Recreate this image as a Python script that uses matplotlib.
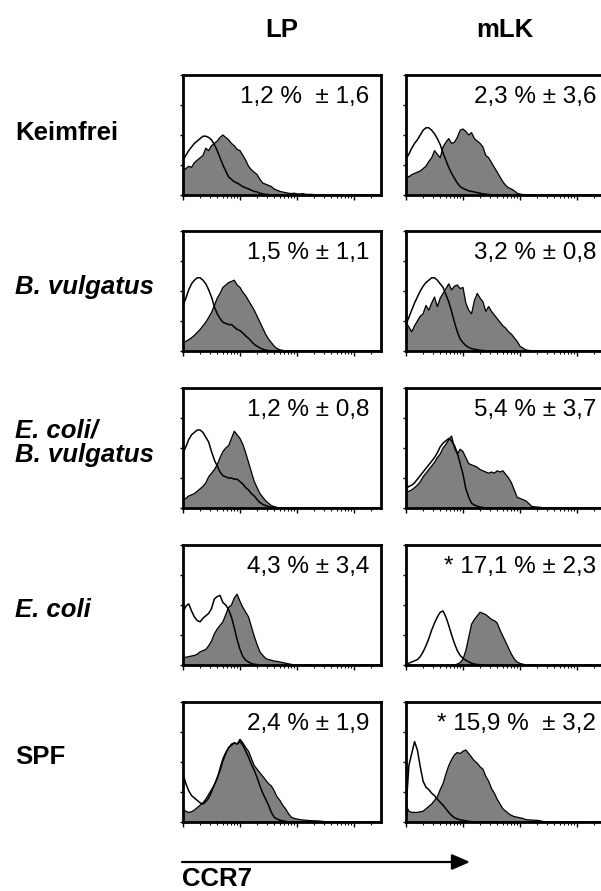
import numpy as np
import matplotlib
matplotlib.use("Agg")
import matplotlib.pyplot as plt
from matplotlib.patches import FancyArrowPatch, ArrowStyle
from matplotlib.ticker import LogLocator, NullFormatter, FixedLocator

plt.rcParams["font.family"] = ["Liberation Sans", "DejaVu Sans"]

# ---------------------------------------------------------------------------
# CCR7 fluorescence histograms (% of panel height), channels in 0.05-decade bins
# starting at 10^0.  "iso" = open outline, "ccr7" = grey filled histogram.
# ---------------------------------------------------------------------------
BIN_WIDTH = 0.05
N_BINS = 70
channel_decades = np.arange(N_BINS) * BIN_WIDTH

groups = ["Keimfrei", "B. vulgatus", "E. coli/\nB. vulgatus", "E. coli", "SPF"]
group_italic = [False, True, True, True, False]
tissues = ["LP", "mLK"]

stats_lp = ["1,2 %  ± 1,6", "1,5 % ± 1,1", "1,2 % ± 0,8", "4,3 % ± 3,4", "2,4 % ± 1,9"]
stats_mlk = ["2,3 % ± 3,6", "3,2 % ± 0,8", "5,4 % ± 3,7", "* 17,1 % ± 2,3", "* 15,9 %  ± 3,2"]

keimfrei_lp_iso = [29, 33, 37, 40, 43, 45, 47, 49, 49, 48, 46, 42, 37, 31, 25, 20, 15, 13, 11, 10,
                   8.5, 7, 6, 5, 4, 3, 2.5, 1.5, 1, 0.6, 0.3]
keimfrei_lp_ccr7 = [20, 22, 24, 23, 27, 29, 31, 33, 39, 37, 41, 43, 45, 48, 50, 48, 46, 43, 41, 38,
                    37, 33, 29, 24, 21, 19, 17, 13, 10, 9, 8, 7, 5, 4, 3, 2.5, 2, 1.5, 1.2, 1.5,
                    1, 0.8, 1.2, 0.6, 0.5, 0.6, 0.3, 0.2]
keimfrei_mlk_iso = [30, 34, 39, 43, 46, 50, 54, 56, 56, 54, 51, 47, 42, 35, 29, 23, 18, 14, 10, 7,
                    5.5, 4.5, 3.5, 3, 2.5, 2, 1.5, 1, 0.7, 0.4, 0.2]
keimfrei_mlk_ccr7 = [17, 15, 17, 18, 19, 20, 22, 24, 28, 31, 37, 34, 31, 40, 44, 47, 43, 44, 48, 54,
                     55, 53, 50, 52, 47, 45, 43, 40, 33, 31, 27, 23, 19, 15, 11, 8, 6, 5, 3.5, 1.5,
                     0.8, 0.4, 0.3]

bvulg_lp_iso = [38, 44, 51, 56, 59, 61, 61, 59, 56, 51, 45, 37, 31, 27, 24, 23, 22, 22, 20, 18,
                17, 15, 12.5, 10.5, 8, 5.5, 4, 2.5, 1.5, 0.8, 0.4, 0.2]
bvulg_lp_ccr7 = [7, 8, 9.5, 11, 13, 15.5, 18, 21, 24, 28, 32, 38, 44, 48, 53, 55, 57, 58, 59, 55,
                 53, 49, 46, 42, 38, 34, 29, 24, 19, 14, 10, 7, 4, 2, 1, 0.5, 0.2]
bvulg_mlk_iso = [22, 28, 34, 40, 45, 50, 54, 57, 59, 61, 61, 59, 56, 53, 47, 41, 33, 24, 16, 10,
                 7, 4.5, 3, 2, 1.5, 1, 0.6, 0.4, 0.2]
bvulg_mlk_ccr7 = [24, 20, 16, 21, 25, 29, 31, 38, 34, 40, 45, 37, 44, 48, 52, 56, 51, 54, 55, 52,
                  53, 40, 34, 31, 42, 48, 44, 41, 33, 37, 33, 30, 27, 24, 21, 19, 16, 14, 11, 8,
                  4, 2.5, 1, 0.5, 0.3]

ecbv_lp_iso = [46, 51, 57, 61, 63, 65, 65, 63, 59, 55, 47, 40, 35, 30, 27, 26, 25, 25, 24, 24,
               22, 20, 17, 15, 12, 10, 7, 4.5, 3, 2, 1.2, 0.6, 0.3]
ecbv_lp_ccr7 = [7, 8, 10, 11, 12, 14, 16, 18, 21, 26, 29, 32, 36, 42, 47, 50, 52, 58, 64, 61,
                58, 53, 46, 38, 30, 22, 17, 12, 9, 6, 4, 2, 1.2, 0.5, 0.2]
ecbv_mlk_iso = [16, 18, 19, 21, 24, 27, 30, 33, 36, 39, 42, 46, 51, 54, 56, 58, 56, 52, 46, 37,
                28, 16, 9, 4, 2.5, 1.5, 0.8, 0.4, 0.2]
ecbv_mlk_ccr7 = [13, 14, 15, 17, 19, 22, 26, 29, 32, 35, 38, 42, 45, 50, 53, 57, 60, 50, 45, 49,
                 47, 42, 37, 36, 35, 34, 32, 31, 30, 29, 30, 29, 31, 30, 31, 28, 25, 21, 15, 9,
                 8, 7, 6, 4, 1.5, 1, 0.8, 0.6, 0.3]

ecoli_lp_iso = [44, 49, 51, 45, 40, 37, 36, 39, 41, 43, 47, 55, 57, 58, 52, 50, 46, 40, 31, 21,
                13, 7, 4, 2.5, 1.2, 0.6, 0.3]
ecoli_lp_ccr7 = [6, 6.5, 7, 7.5, 8, 9, 11, 12, 13, 16, 20, 26, 30, 33, 36, 42, 48, 50, 56, 59,
                 53, 48, 44, 40, 32, 24, 17, 11, 8, 5.5, 4.5, 4, 3.3, 3, 2.5, 2, 1.5, 1, 0.5, 0.2]
ecoli_mlk_iso = [0.5, 1.5, 2.5, 3.5, 4.5, 7, 11, 16, 22, 29, 35, 40, 44, 45, 40, 33, 25, 18, 12, 8,
                 5.5, 4, 2.5, 1.5, 0.8, 0.4, 0.2]
ecoli_mlk_ccr7 = [0, 0, 0, 0, 0, 0, 0, 0, 0, 0, 0, 0, 0, 0, 0, 0, 0, 0, 0.8, 2,
                  5, 12, 23, 34, 38, 41, 44, 43, 42, 40, 38, 37, 35, 29, 24, 19, 14, 9, 5, 2.5,
                  1.4, 0.6, 0.3]

spf_lp_iso = [40, 32, 26, 22, 20, 18, 16, 15, 17, 20, 25, 31, 37, 43, 51, 57, 62, 64, 66, 65,
              67, 64, 59, 54, 48, 43, 37, 30, 24, 19, 14, 8, 4, 2.5, 1.5, 1, 0.5, 0.2]
spf_lp_ccr7 = [11, 9, 8, 8.5, 10, 12, 14, 16, 19, 23, 27, 31, 36, 45, 53, 58, 62, 65, 66, 65,
               69, 66, 62, 59, 53, 47, 44, 41, 38, 35, 32, 30, 26, 21, 18, 14, 11, 7, 4, 3,
               2.5, 2, 1.7, 1.5, 1.3, 1.1, 1, 0.9, 0.8, 0.5, 0.3]
spf_mlk_iso = [10, 47, 57, 67, 60, 46, 34, 29, 27, 24, 22, 19, 16.5, 14, 11, 8, 5.5, 3.6, 2.5, 1.8,
               1.4, 1, 0.5, 0.3]
spf_mlk_ccr7 = [14, 9, 8, 8, 8, 8.5, 9, 11, 13, 15, 18, 21, 27, 32, 40, 47, 52, 56, 58, 57,
                59, 60, 57, 54, 51, 49, 46, 44, 38, 34, 28, 24, 19, 15, 11, 9, 7, 5.5, 4.5, 4,
                3.5, 3, 2, 1.8, 1.6, 1.5, 1.4, 1, 0.5, 0.2]

lp_histograms = [(keimfrei_lp_iso, keimfrei_lp_ccr7), (bvulg_lp_iso, bvulg_lp_ccr7),
                 (ecbv_lp_iso, ecbv_lp_ccr7), (ecoli_lp_iso, ecoli_lp_ccr7),
                 (spf_lp_iso, spf_lp_ccr7)]
mlk_histograms = [(keimfrei_mlk_iso, keimfrei_mlk_ccr7), (bvulg_mlk_iso, bvulg_mlk_ccr7),
                  (ecbv_mlk_iso, ecbv_mlk_ccr7), (ecoli_mlk_iso, ecoli_mlk_ccr7),
                  (spf_mlk_iso, spf_mlk_ccr7)]


def padded(counts):
    out = np.zeros(N_BINS)
    out[:len(counts)] = counts
    return out


# ---------------------------------------------------------------------------
# Layout (pixel based)
# ---------------------------------------------------------------------------
FIG_W, FIG_H = 601, 891
fig = plt.figure(figsize=(FIG_W / 100, FIG_H / 100), dpi=100)
fig.patch.set_facecolor("white")


def fig_box(left, top, width, height):
    return [left / FIG_W, 1 - (top + height) / FIG_H, width / FIG_W, height / FIG_H]


PANEL_W, PANEL_H = 198, 120
PX_PER_DECADE = 57
col_left = [183, 406]
row_top = [75, 231, 388, 545, 702]
stat_right = [0.939, 0.96]
label_baselines = [[140], [294], [437, 462], [617], [764]]

LABEL_SIZE = 18.5
STAT_SIZE = 17.5
FILL_GREY = "#808080"

x_channels = 10 ** channel_decades
x_max = 10 ** (PANEL_W / PX_PER_DECADE)

for r in range(len(groups)):
    for c, (hists, stats) in enumerate([(lp_histograms, stats_lp), (mlk_histograms, stats_mlk)]):
        ax = fig.add_axes(fig_box(col_left[c], row_top[r], PANEL_W, PANEL_H))
        iso, ccr7 = hists[r]
        iso = padded(iso)
        ccr7 = padded(ccr7)
        ax.fill_between(x_channels, 0, ccr7, facecolor=FILL_GREY, edgecolor="none", zorder=1)
        ax.plot(x_channels, ccr7, color="black", lw=0.9, zorder=1.5)
        ax.plot(x_channels, iso, color="black", lw=1.1, zorder=1.8)

        ax.set_xscale("log")
        ax.set_xlim(1, x_max)
        ax.set_ylim(0, 100)
        ax.xaxis.set_major_locator(LogLocator(base=10))
        ax.xaxis.set_minor_locator(LogLocator(base=10, subs=np.arange(2, 10)))
        ax.xaxis.set_major_formatter(NullFormatter())
        ax.xaxis.set_minor_formatter(NullFormatter())
        ax.yaxis.set_major_locator(FixedLocator([0, 25, 50, 75, 100]))
        ax.yaxis.set_major_formatter(NullFormatter())
        ax.tick_params(axis="x", which="major", direction="out", length=3.5, width=1.0, color="black")
        ax.tick_params(axis="x", which="minor", direction="out", length=2.0, width=0.8, color="black")
        ax.tick_params(axis="y", which="major", direction="out", length=2.5, width=1.0, color="black")
        for sp in ax.spines.values():
            sp.set_linewidth(2.0)
            sp.set_color("black")

        ax.text(stat_right[c], 1 - 28 / PANEL_H, stats[r], transform=ax.transAxes,
                ha="right", va="baseline", fontsize=STAT_SIZE, color="black")

# column headers
for c, name in enumerate(tissues):
    cx = col_left[c] + PANEL_W / 2
    fig.text(cx / FIG_W, 1 - 37 / FIG_H, name, ha="center", va="baseline",
             fontsize=LABEL_SIZE, fontweight="bold")

# group labels
for r, name in enumerate(groups):
    for line, base in zip(name.split("\n"), label_baselines[r]):
        fig.text(15 / FIG_W, 1 - base / FIG_H, line, ha="left", va="baseline",
                 fontsize=LABEL_SIZE, fontweight="bold",
                 fontstyle="italic" if group_italic[r] else "normal")

# CCR7 axis arrow and label
arrow = FancyArrowPatch((182 / FIG_W, 1 - 862 / FIG_H), (470 / FIG_W, 1 - 862 / FIG_H),
                        transform=fig.transFigure,
                        arrowstyle=ArrowStyle("-|>", head_length=1.1, head_width=0.48),
                        mutation_scale=10, lw=1.6, color="black",
                        shrinkA=0, shrinkB=0)
fig.add_artist(arrow)
fig.text(182 / FIG_W, 1 - 886 / FIG_H, "CCR7", ha="left", va="baseline",
         fontsize=LABEL_SIZE, fontweight="bold")

fig.savefig("out.png", dpi=100, facecolor="white")
